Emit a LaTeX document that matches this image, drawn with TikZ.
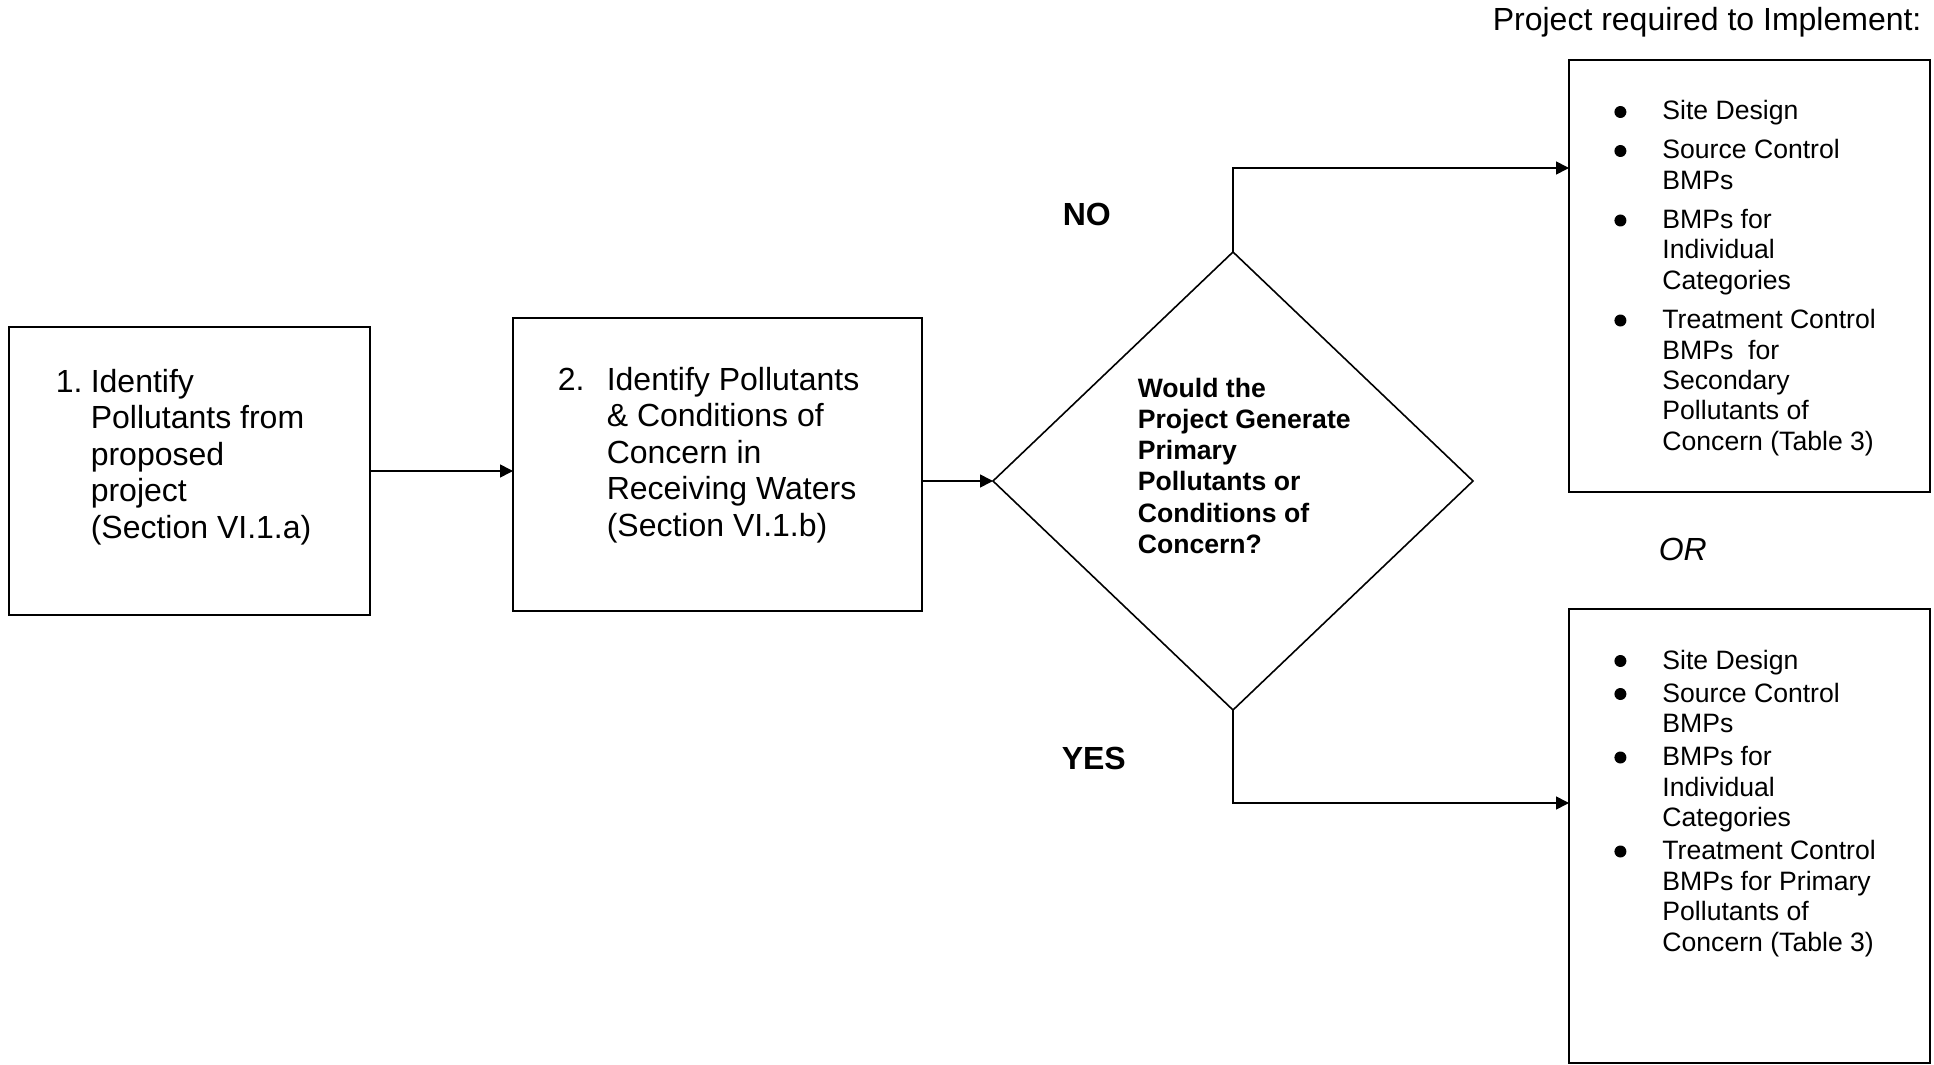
\documentclass[tikz,border=0pt]{standalone}
\usepackage{fontspec}
\setmainfont{Liberation Sans}
\usepackage{tikz}
\usetikzlibrary{positioning,shapes.geometric,arrows.meta}

\newcommand{\bigsize}{\fontsize{16pt}{18.3pt}\selectfont}
\newcommand{\smallsize}{\fontsize{13.3pt}{15.25pt}\selectfont}
\newcommand{\bmpdot}{\tikz[baseline=0pt] \fill (3pt,4pt) circle [radius=3pt];}
\newcommand{\bmpitem}[1]{\par\noindent\hangindent=24pt\hangafter=1\makebox[24pt][l]{\bmpdot}#1}

\begin{document}
\begin{tikzpicture}[x=0.5pt, y=-0.5pt, line width=0.8pt,
        flow/.style = {-{Triangle[length=6.5pt, width=6.5pt]}},
        txt/.style = {anchor=base west, inner sep=0pt},
    ]
    \tikzstyle{stepbox} = [draw, rectangle, inner sep=0pt, outer sep=0pt];
    \useasboundingbox (0,0) rectangle (1934,1065);
    \node [stepbox, minimum width=180.5pt, minimum height=144pt] (s1) at (189.5,471) {};
    \node [stepbox, minimum width=204.5pt, minimum height=146.5pt] (s2) at (717.5,464.5) {};
    \node [draw, diamond, minimum width=240pt, minimum height=229pt, inner sep=0pt, outer sep=0pt] (q) at (1233,481) {};
    \node [stepbox, minimum width=180.5pt, minimum height=216pt] (noplan) at (1749.5,276) {};
    \node [stepbox, minimum width=180.5pt, minimum height=227pt] (yesplan) at (1749.5,836) {};
    \draw [flow] (s1.east) -- (s1.east -| s2.west);
    \draw [flow] (q.west -| s2.east) -- (q.west);
    \draw [flow] (q.north) |- ([yshift=54pt]noplan.west);
    \draw [flow] (q.south) |- ([yshift=16.5pt]yesplan.west);
    \node [txt] (n1) at (55,392) {\bigsize 1.};
    \node [txt] (t1) at (90,392) {\bigsize\parbox[t]{150pt}{Identify\\Pollutants from\\proposed\\project\\(Section VI.1.a)}};
    \node [txt] (n2) at (557,390) {\bigsize 2.};
    \node [txt] (t2) at (606,390) {\bigsize\parbox[t]{150pt}{Identify Pollutants\\\& Conditions of\\Concern in\\Receiving Waters\\(Section VI.1.b)}};
    \node [txt] (tq) at (1137,397) {\fontsize{13.3pt}{15.65pt}\selectfont\bfseries\parbox[t]{130pt}{Would the\\Project Generate\\Primary\\Pollutants or\\Conditions of\\Concern?}};
    \node [txt] (head) at (1492,31) {\bigsize Project required to Implement:};
    \node [txt] (no) at (1062,226) {\bigsize\bfseries NO};
    \node [txt] (yes) at (1061,769) {\bigsize\bfseries YES};
    \node [txt] (or) at (1658,560) {\bigsize\itshape OR};
    \node [txt] (l3) at (1614,120) {\smallsize\parbox[t]{160pt}{\parskip=4.25pt
        \bmpitem{Site Design}
        \bmpitem{Source Control\\BMPs}
        \bmpitem{BMPs for\\Individual\\Categories}
        \bmpitem{Treatment Control\\BMPs\ \ for\\Secondary\\Pollutants of\\Concern (Table 3)}}};
    \node [txt] (l4) at (1614,669) {\smallsize\parbox[t]{160pt}{\parskip=1.25pt
        \bmpitem{Site Design}
        \bmpitem{Source Control\\BMPs}
        \bmpitem{BMPs for\\Individual\\Categories}
        \bmpitem{Treatment Control\\BMPs for Primary\\Pollutants of\\Concern (Table 3)}}};
\end{tikzpicture}
\end{document}
